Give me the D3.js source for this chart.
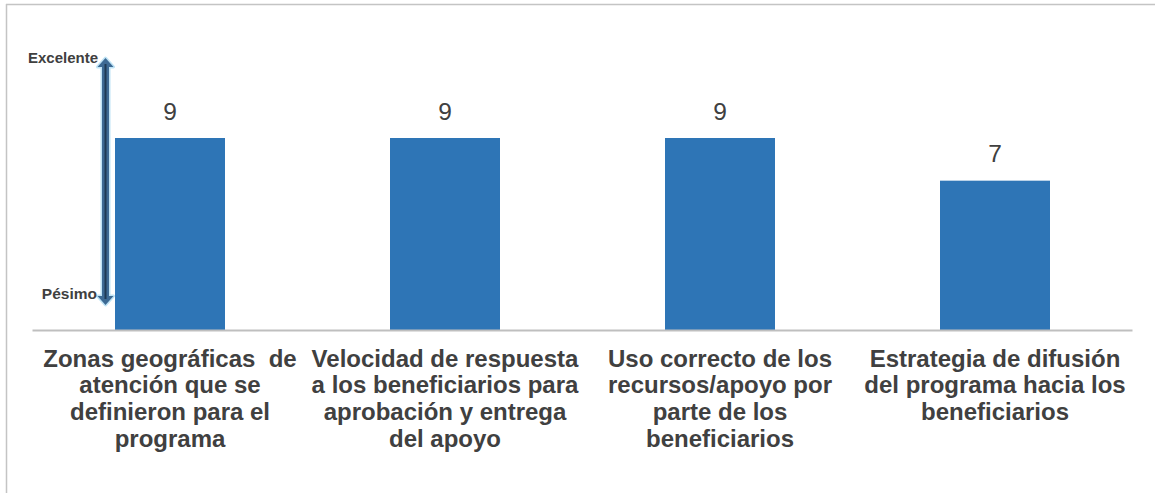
<!DOCTYPE html>
<html>
<head>
<meta charset="utf-8">
<script src="https://cdn.jsdelivr.net/npm/d3@7"></script>
<style>
  body { margin: 0; background: #fff; }
  text { font-family: "Liberation Sans", Arial, sans-serif; white-space: pre; }
</style>
</head>
<body>
<svg width="1155" height="493"></svg>
<script>
const categories = ['c1', 'c2', 'c3', 'c4'];
const values = [9, 9, 9, 7];
const labelLines = [
    ['Zonas geográficas  de', 'atención que se', 'definieron para el', 'programa'],
    ['Velocidad de respuesta', 'a los beneficiarios para', 'aprobación y entrega', 'del apoyo'],
    ['Uso correcto de los', 'recursos/apoyo por', 'parte de los', 'beneficiarios'],
    ['Estrategia de difusión', 'del programa hacia los', 'beneficiarios']
];
const scaleTop = 'Excelente';
const scaleBottom = 'Pésimo';

const svg = d3.select('svg');
const width = +svg.attr('width');
const height = +svg.attr('height');

// chart frame (top and left only)
svg.append('line')
    .attr('x1', 6).attr('x2', width).attr('y1', 4.5).attr('y2', 4.5)
    .attr('stroke', '#c4c4c4').attr('stroke-width', 1.5);
svg.append('line')
    .attr('x1', 6.5).attr('x2', 6.5).attr('y1', 4).attr('y2', height)
    .attr('stroke', '#c4c4c4').attr('stroke-width', 1.5);

const x = d3.scaleBand()
    .domain(categories)
    .range([32.5, 1132.5])
    .paddingInner(0.6)
    .paddingOuter(0.3);

const y = d3.scaleLinear()
    .domain([0, 12])
    .range([330, 74]);

// bars
svg.selectAll('rect.bar')
    .data(values)
    .join('rect')
        .attr('class', 'bar')
        .attr('x', (d, i) => x(categories[i]))
        .attr('y', d => y(d))
        .attr('width', x.bandwidth())
        .attr('height', d => y(0) - y(d))
        .attr('fill', '#2e75b6');

// value labels
svg.selectAll('text.value')
    .data(values)
    .join('text')
        .attr('class', 'value')
        .attr('x', (d, i) => x(categories[i]) + x.bandwidth() / 2)
        .attr('y', d => y(d) - 18.5)
        .attr('text-anchor', 'middle')
        .attr('font-size', 24.5)
        .attr('fill', '#404040')
        .text(d => d);

// baseline
svg.append('line')
    .attr('x1', 32.5).attr('x2', 1132.5)
    .attr('y1', y(0) + 0.5).attr('y2', y(0) + 0.5)
    .attr('stroke', '#bfbfbf').attr('stroke-width', 2);

// category labels
const labels = svg.selectAll('text.cat')
    .data(labelLines)
    .join('text')
        .attr('class', 'cat')
        .attr('text-anchor', 'middle')
        .attr('font-size', 24)
        .attr('font-weight', 'bold')
        .attr('fill', '#404040')
        .attr('transform', (d, i) => `translate(${x(categories[i]) + x.bandwidth() / 2}, 366.5)`);

labels.selectAll('tspan')
    .data(d => d)
    .join('tspan')
        .attr('x', 0)
        .attr('y', (d, i) => i * 26.8)
        .text(d => d);

// scale arrow
const arrowX = 105.5;
const arrowTop = 58;
const arrowBottom = 305;
const shaft = 3.5, head = 8, headLen = 9;
const arrowG = svg.append('g');

const arrowPath = `M${arrowX},${arrowTop}
    L${arrowX + head},${arrowTop + headLen} L${arrowX + shaft},${arrowTop + headLen}
    L${arrowX + shaft},${arrowBottom - headLen} L${arrowX + head},${arrowBottom - headLen}
    L${arrowX},${arrowBottom}
    L${arrowX - head},${arrowBottom - headLen} L${arrowX - shaft},${arrowBottom - headLen}
    L${arrowX - shaft},${arrowTop + headLen} L${arrowX - head},${arrowTop + headLen} Z`;

arrowG.append('path')
    .attr('d', arrowPath)
    .attr('fill', 'none')
    .attr('stroke', '#bfe3f5')
    .attr('stroke-width', 3)
    .attr('stroke-linejoin', 'round');
arrowG.append('path')
    .attr('d', arrowPath)
    .attr('fill', '#3d6a94');
arrowG.append('line')
    .attr('x1', arrowX).attr('x2', arrowX)
    .attr('y1', arrowTop + 6).attr('y2', arrowBottom - 6)
    .attr('stroke', '#1f3a55')
    .attr('stroke-width', 2);

svg.append('text')
    .attr('x', 98).attr('y', 63)
    .attr('text-anchor', 'end')
    .attr('font-size', 15)
    .attr('font-weight', 'bold')
    .attr('fill', '#404040')
    .text(scaleTop);

svg.append('text')
    .attr('x', 97).attr('y', 299)
    .attr('text-anchor', 'end')
    .attr('font-size', 15.5)
    .attr('font-weight', 'bold')
    .attr('fill', '#404040')
    .text(scaleBottom);
</script>
</body>
</html>
